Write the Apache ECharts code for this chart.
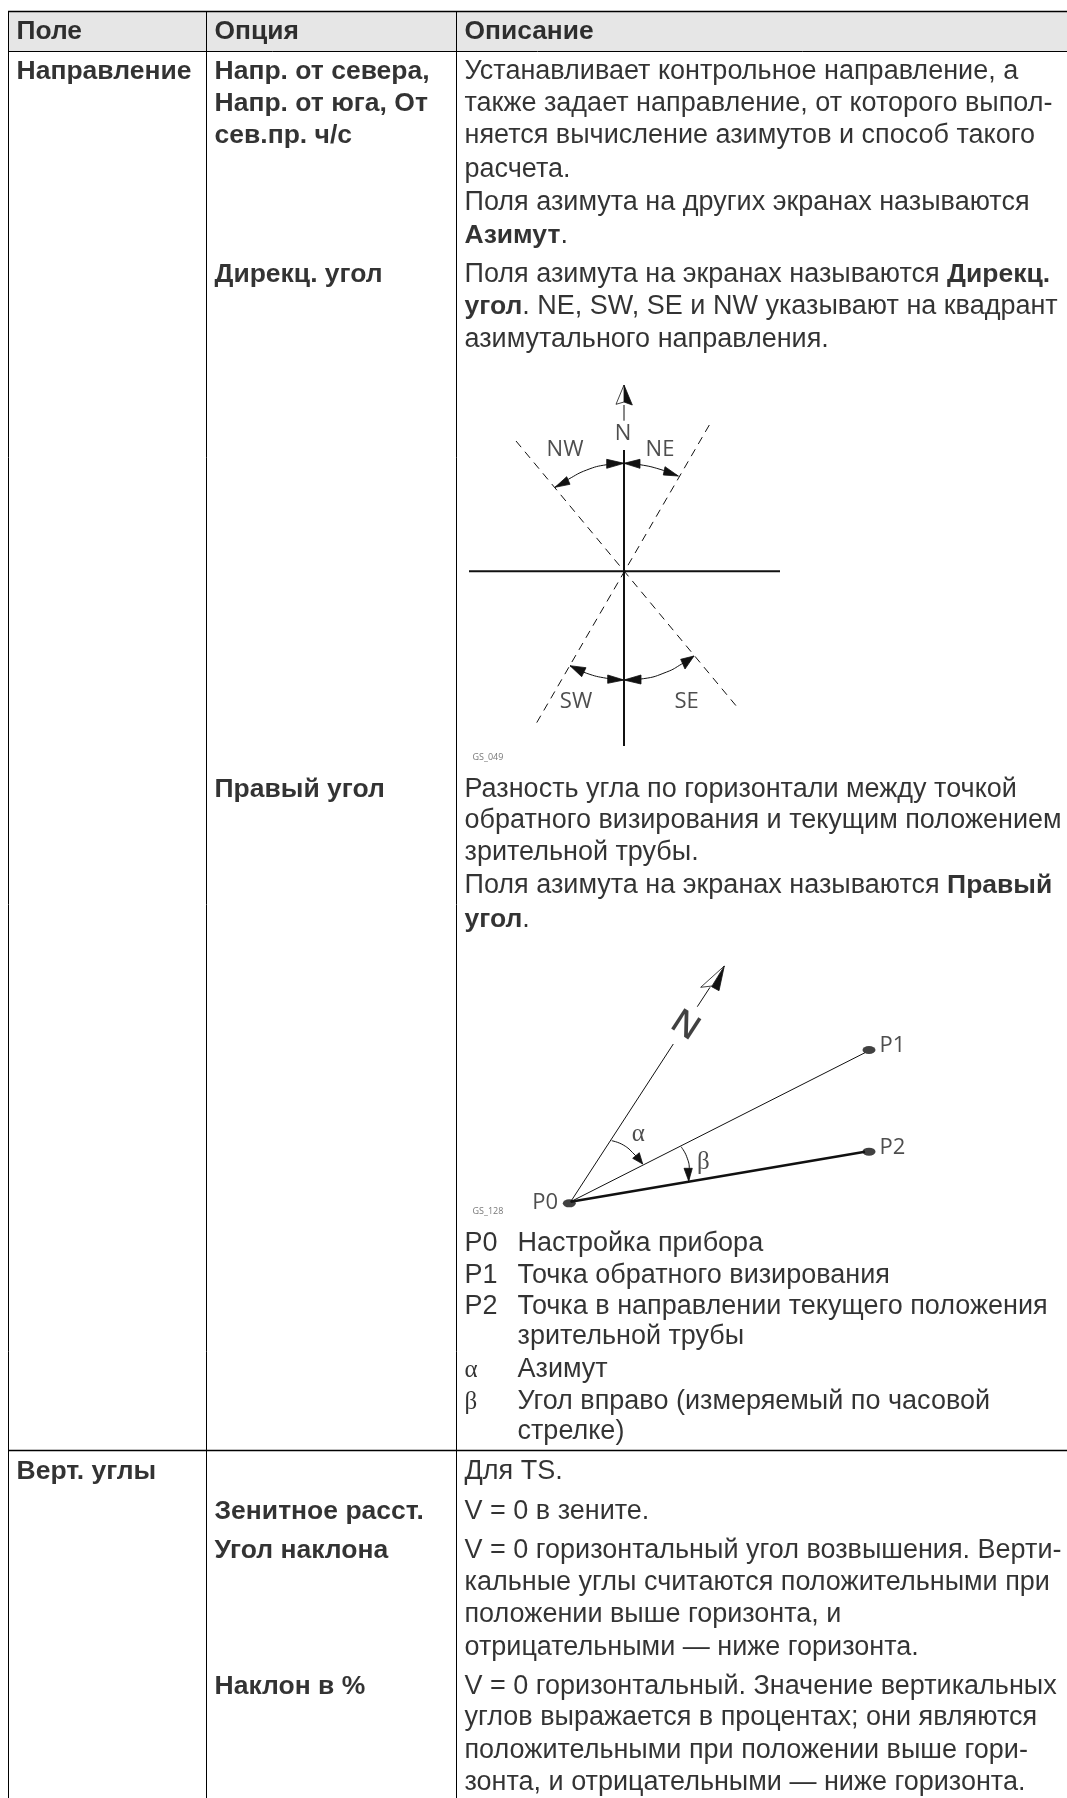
<!DOCTYPE html>
<html>
<head>
<meta charset="utf-8">
<style>html,body{margin:0;padding:0;background:#fff}#chart{width:1067px;height:1798px}</style>
<script src="https://cdn.jsdelivr.net/npm/echarts@6/dist/echarts.min.js"></script>
</head>
<body>
<div id="chart"></div>
<script>
// table text, [x, y, text], {b|..} = bold
var headerLabels = [[16, 32, 'Поле'], [214, 32, 'Опция'], [464, 32, 'Описание']];
var boldLabels = [
    [16, 72, 'Направление'],
    [214, 72, '{b|Напр. от севера}{n|,}'],
    [214, 104, '{b|Напр. от юга}{n|,}{b| От}'],
    [214, 136, 'сев.пр. ч/с'],
    [214, 275, 'Дирекц. угол'],
    [214, 790, 'Правый угол'],
    [16, 1472, 'Верт. углы'],
    [214, 1512, 'Зенитное расст.'],
    [214, 1551, 'Угол наклона'],
    [214, 1687, 'Наклон в %']
];
var bodyLines = [
    [464, 72, 'Устанавливает контрольное направление, а'],
    [464, 104, 'также задает направление, от которого выпол-'],
    [464, 136, 'няется вычисление азимутов и способ такого'],
    [464, 170, 'расчета.'],
    [464, 203, 'Поля азимута на других экранах называются'],
    [464, 236, '{b|Азимут}.'],
    [464, 275, 'Поля азимута на экранах называются {b|Дирекц.}'],
    [464, 307, '{b|угол}. NE, SW, SE и NW указывают на квадрант'],
    [464, 340, 'азимутального направления.'],
    [464, 790, 'Разность угла по горизонтали между точкой'],
    [464, 821, 'обратного визирования и текущим положением'],
    [464, 853, 'зрительной трубы.'],
    [464, 886, 'Поля азимута на экранах называются {b|Правый}'],
    [464, 920, '{b|угол}.'],
    [464, 1244, 'P0'], [517, 1244, 'Настройка прибора'],
    [464, 1276, 'P1'], [517, 1276, 'Точка обратного визирования'],
    [464, 1307, 'P2'], [517, 1307, 'Точка в направлении текущего положения'],
    [517, 1337, 'зрительной трубы'],
    [464, 1370, '{g|α}'], [517, 1370, 'Азимут'],
    [464, 1402, '{g|β}'], [517, 1402, 'Угол вправо (измеряемый по часовой'],
    [517, 1432, 'стрелке)'],
    [464, 1472, 'Для TS.'],
    [464, 1512, 'V = 0 в зените.'],
    [464, 1551, 'V = 0 горизонтальный угол возвышения. Верти-'],
    [464, 1583, 'кальные углы считаются положительными при'],
    [464, 1615, 'положении выше горизонта, и'],
    [464, 1648, 'отрицательными — ниже горизонта.'],
    [464, 1687, 'V = 0 горизонтальный. Значение вертикальных'],
    [464, 1718, 'углов выражается в процентах; они являются'],
    [464, 1751, 'положительными при положении выше гори-'],
    [464, 1783, 'зонта, и отрицательными — ниже горизонта.']
];

// table frame
var headerBand = [[8, 11, 1067, 51]];
var heavyRules = [[[8, 11.5], [1067, 11.5]], [[8, 1450.5], [1067, 1450.5]]];
var thinRules = [[[8, 51.5], [1067, 51.5]], [[8.5, 11], [8.5, 1798]], [[206.5, 11], [206.5, 1798]], [[456.5, 11], [456.5, 1798]]];

// compass diagram
var compassSolid = [[[624, 450], [624, 746]], [[469, 571.3], [780, 571.3]]];
var compassShaft = [[[624, 405], [624, 420.7]]];
var compassDashed = [[[516, 441], [736, 705.7]], [[709.3, 425], [536.7, 722.7]]];
var compassArcs = [
    [[624, 463.3], [606.7, 464.7], [586.7, 470], [568.3, 479.3], [555, 487.3]],
    [[624, 463.3], [640, 464.7], [660, 469.3], [678.3, 476]],
    [[624, 680], [606.7, 678.3], [586.7, 673.3], [570, 665.7]],
    [[624, 680], [643.3, 678.7], [666.7, 672], [681.7, 664], [694, 656]]
];
var compassHeads = [
    [[624, 463.3], [606.7, 459.3], [606.7, 468.3]],
    [[555, 487.3], [566.7, 476.7], [570, 484.3]],
    [[624, 463.3], [640, 459.3], [640, 468.3]],
    [[678.3, 476], [665, 466.7], [663.3, 475]],
    [[624, 680], [607.7, 675], [607.7, 683.3]],
    [[570, 665.7], [586, 667.7], [581.7, 676.7]],
    [[624, 680], [641, 675], [641, 684]],
    [[694, 656], [680.7, 659.3], [685, 669]],
    [[624, 385], [624, 402], [632.3, 405]]
];
var compassHollow = [[[624, 385], [616, 404.3], [624, 402]]];
var compassLabels = [[623, 434, 'N'], [565, 449.3, 'NW'], [660, 449.3, 'NE'], [576, 701.7, 'SW'], [686.7, 701.7, 'SE']];

// station diagram
var stationThin = [
    [[570.7, 1201.7], [673.3, 1044]],
    [[697.3, 1006.7], [710, 987.3]],
    [[570.7, 1201.7], [865, 1052.7]]
];
var stationThick = [[[570.7, 1201.7], [865, 1151.7]]];
var stationArcs = [
    [[611.7, 1140.7], [623.3, 1145], [634, 1154], [642.7, 1164]],
    [[681, 1146.7], [686.7, 1156.7], [689.3, 1170], [688.7, 1180.7]]
];
var stationHeads = [
    [[642.7, 1164], [632.7, 1158.3], [639.3, 1152.7]],
    [[688.7, 1181], [684, 1168.3], [692.3, 1168.3]],
    [[724.3, 966], [711.7, 986.7], [719, 990.7]]
];
var stationHollow = [[[724.3, 966], [700.7, 987.3], [712, 986]]];
var stationDots = [[569.3, 1203.3], [869, 1050], [869, 1151.7]];
var stationLabels = [[531.7, 1202.7, 'P0'], [879, 1046, 'P1'], [879, 1148, 'P2']];
var stationGreek = [[638.3, 1134, 'α'], [703.3, 1162.7, 'β']];
var stationNorth = [[685, 1026, 'N']];
var figureCodes = [[472, 757, 'GS_049'], [472, 1211, 'GS_128']];

var BODY_FONT = 'Liberation Sans';
var FIG_FONT = 'Open Sans';

function textSeries(rows, label) {
    return {
        type: 'scatter',
        symbolSize: 1,
        silent: true,
        clip: false,
        itemStyle: { color: 'rgba(0,0,0,0)' },
        data: rows.map(function (r) { return { value: [r[0], r[1]], name: r[2] }; }),
        label: Object.assign({
            show: true,
            position: 'right',
            distance: 0,
            color: '#000',
            verticalAlign: 'middle',
            formatter: function (p) { return p.name; }
        }, label)
    };
}

function polyline(points, width, extra) {
    return Object.assign({
        type: 'line',
        data: points,
        showSymbol: false,
        silent: true,
        clip: false,
        lineStyle: { color: '#111', width: width }
    }, extra || {});
}

function polygons(list, fill, stroke) {
    return {
        type: 'custom',
        silent: true,
        clip: false,
        data: list.map(function (p, i) { return [i]; }),
        renderItem: function (params, api) {
            return {
                type: 'polygon',
                shape: { points: list[params.dataIndex].map(function (p) { return api.coord(p); }) },
                style: { fill: fill, stroke: stroke, lineWidth: 0.8 }
            };
        }
    };
}

var bodyRich = {
    b: { fontFamily: BODY_FONT, fontSize: 26.5, fontWeight: 'bold', color: '#000' },
    g: { fontFamily: 'Liberation Serif', fontSize: 25, color: '#000' }
};

var series = [];
series.push({
    type: 'custom',
    silent: true,
    clip: false,
    data: headerBand,
    renderItem: function (params, api) {
        var a = api.coord([api.value(0), api.value(1)]);
        var b = api.coord([api.value(2), api.value(3)]);
        return { type: 'rect', shape: { x: a[0], y: a[1], width: b[0] - a[0], height: b[1] - a[1] }, style: { fill: '#e6e6e6' } };
    }
});
heavyRules.forEach(function (d) { series.push(polyline(d, 2, { lineStyle: { color: '#000', width: 1.5 } })); });
thinRules.forEach(function (d) { series.push(polyline(d, 1, { lineStyle: { color: '#000', width: 1 } })); });

compassSolid.forEach(function (d) { series.push(polyline(d, 2)); });
compassShaft.forEach(function (d) { series.push(polyline(d, 1)); });
compassDashed.forEach(function (d) { series.push(polyline(d, 1, { lineStyle: { color: '#111', width: 1, type: [8, 6] } })); });
compassArcs.forEach(function (d) { series.push(polyline(d, 1, { smooth: true })); });
series.push(polygons(compassHeads, '#111', '#111'));
series.push(polygons(compassHollow, '#fff', '#111'));

stationThin.forEach(function (d) { series.push(polyline(d, 1)); });
stationThick.forEach(function (d) { series.push(polyline(d, 2.6)); });
stationArcs.forEach(function (d) { series.push(polyline(d, 1, { smooth: true })); });
series.push(polygons(stationHeads, '#111', '#111'));
series.push(polygons(stationHollow, '#fff', '#111'));
series.push({
    type: 'scatter',
    silent: true,
    clip: false,
    symbol: 'circle',
    symbolSize: [13, 8],
    itemStyle: { color: '#111' },
    data: stationDots
});

series.push(textSeries(headerLabels, { fontFamily: BODY_FONT, fontSize: 26.4, fontWeight: 'bold' }));
series.push(textSeries(boldLabels, {
    fontFamily: BODY_FONT, fontSize: 26.5, fontWeight: 'bold',
    rich: {
        b: { fontFamily: BODY_FONT, fontSize: 26.5, fontWeight: 'bold', color: '#000' },
        n: { fontFamily: BODY_FONT, fontSize: 26.5, color: '#000' }
    }
}));
series.push(textSeries(bodyLines, { fontFamily: BODY_FONT, fontSize: 27, rich: bodyRich }));
series.push(textSeries(compassLabels, { fontFamily: FIG_FONT, fontSize: 22, color: '#222', position: 'inside' }));
series.push(textSeries(stationLabels, { fontFamily: FIG_FONT, fontSize: 22, color: '#222' }));
series.push(textSeries(stationGreek, { fontFamily: 'Liberation Serif', fontSize: 25, color: '#222', position: 'inside' }));
series.push(textSeries(stationNorth, { fontFamily: FIG_FONT, fontSize: 34, fontWeight: 600, color: '#111', position: 'inside', rotate: -33 }));
series.push(textSeries(figureCodes, { fontFamily: FIG_FONT, fontSize: 9, color: '#555' }));

var dom = document.getElementById('chart');
var myChart = echarts.init(dom);
var option = {
    animation: false,
    backgroundColor: '#fff',
    grid: { left: 0, right: 0, top: 0, bottom: 0 },
    xAxis: { type: 'value', min: 0, max: 1067, show: false },
    yAxis: { type: 'value', min: 0, max: 1798, inverse: true, show: false },
    series: series
};
myChart.setOption(option);
</script>
</body>
</html>
